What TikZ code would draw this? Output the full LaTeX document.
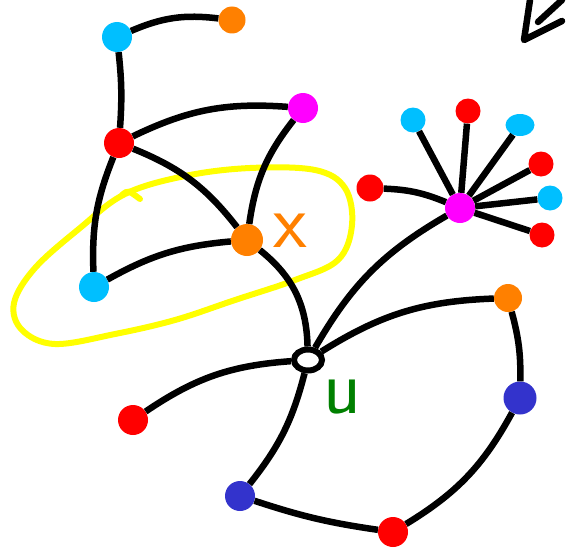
\documentclass[tikz,border=0pt]{standalone}
\usetikzlibrary{shapes.geometric}
\definecolor{skyc}{RGB}{0,191,255}
\definecolor{orangec}{RGB}{255,128,0}
\definecolor{redc}{RGB}{255,0,0}
\definecolor{magc}{RGB}{255,0,255}
\definecolor{bluec}{RGB}{51,51,204}
\definecolor{greenc}{RGB}{0,128,0}
\definecolor{yellowc}{RGB}{255,255,0}

\begin{document}
\begin{tikzpicture}[x=1pt, y=1pt,
  dot/.style={circle, inner sep=0pt, minimum size=30pt},
  link/.style={line width=6.5pt},
  hand/.style={font=\sffamily\fontsize{78}{78}\selectfont}]
  \useasboundingbox (0,0) rectangle (577,-551);

  % yellow loop round the group
  \draw[yellowc, line width=6pt, line cap=round]
    plot[smooth cycle, tension=0.6] coordinates {(125,-194) (185,-176) (250,-168)
      (315,-170) (345,-188) (352,-225) (338,-260) (295,-280) (235,-300) (175,-320)
      (115,-334) (55,-344) (22,-330) (14,-303) (35,-268) (80,-228)};
  \draw[yellowc, line width=6pt, line cap=round] (122,-195) .. controls (128,-190) .. (140,-199);

  % left part
  \node (C1) [dot, fill=skyc] at (117,-37) {};
  \node (O1) [dot, fill=orangec, minimum size=27pt] at (232,-20) {};
  \node (R1) [dot, fill=redc] at (119,-143) {};
  \node (M1) [dot, fill=magc] at (303,-108) {};
  \node (O2) [dot, fill=orangec, minimum size=32pt] at (247,-240) {};
  \node (C2) [dot, fill=skyc] at (94,-287) {};
  \node (X) [hand, text=orangec] at (290,-231) {x};

  % the vertex u
  \node (U) [ellipse, draw, fill=white, line width=6pt, minimum width=28pt, minimum height=21pt] at (308,-360) {};
  \node (Ulab) [hand, text=greenc] at (342,-397) {u};

  % the star on the right
  \node (R2) [dot, fill=redc, minimum size=27pt] at (370,-188) {};
  \node (M2) [dot, fill=magc, minimum size=30pt] at (460,-208) {};
  \node (S1) [dot, fill=skyc, minimum size=25pt] at (413,-120) {};
  \node (S2) [dot, fill=redc, minimum size=25pt] at (468,-111) {};
  \node (S3) [ellipse, inner sep=0pt, minimum width=29pt, minimum height=22pt, fill=skyc] at (520,-125) {};
  \node (S4) [dot, fill=redc, minimum size=25pt] at (541,-164) {};
  \node (S5) [dot, fill=skyc, minimum size=25pt] at (550,-198) {};
  \node (S6) [dot, fill=redc, minimum size=25pt] at (542,-235) {};

  % the cycle at the bottom
  \node (O3) [dot, fill=orangec, minimum size=28pt] at (508,-298) {};
  \node (B1) [dot, fill=bluec, minimum size=33pt] at (520,-398) {};
  \node (R3) [dot, fill=redc, minimum size=30pt] at (393,-532) {};
  \node (B2) [dot, fill=bluec, minimum size=30pt] at (240,-496) {};
  \node (R4) [dot, fill=redc, minimum size=30pt] at (133,-420) {};

  \draw[link] (C1) to[bend left=15] (O1);
  \draw[link] (C1) to[bend left=5] (R1);
  \draw[link] (R1) to[bend left=15] (M1);
  \draw[link] (R1) to[bend left=15] (O2);
  \draw[link] (R1) to[bend right=12] (C2);
  \draw[link] (M1) to[bend right=15] (O2);
  \draw[link] (C2) to[bend left=12] (O2);
  \draw[link] (O2) to[bend left=25] (U);

  \draw[link] (R2) to[bend left=10] (M2);
  \foreach \s in {S1,S2,S3,S4,S5,S6}
    \draw[link] (M2) -- (\s);
  \draw[link] (M2) to[bend right=15] (U);

  \draw[link] (U) to[bend left=15] (O3);
  \draw[link] (O3) to[bend left=8] (B1);
  \draw[link] (B1) to[bend left=15] (R3);
  \draw[link] (R3) to[bend left=5] (B2);
  \draw[link] (B2) to[bend right=12] (U);
  \draw[link] (U) to[bend right=15] (R4);

  % arrow in the corner
  \coordinate (A0) at (562,0);
  \coordinate (A1) at (538,-22);
  \coordinate (H0) at (530,0);
  \coordinate (Htip) at (524,-40);
  \coordinate (H1) at (562,-21);
  \draw[link, line cap=round, line join=round] (A0) -- (A1);
  \draw[link, line cap=round, line join=round] (H0) -- (Htip) -- (H1);
\end{tikzpicture}
\end{document}
